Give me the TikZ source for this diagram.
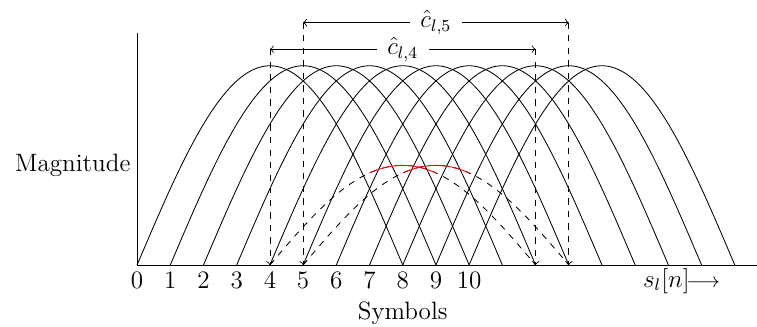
\documentclass[tikz,border=0pt]{standalone}
\usepackage{amsmath,amssymb}
\usepackage{tikz}
\usetikzlibrary{positioning, calc}

\begin{document}
\begin{tikzpicture}[
  x=0.558cm, y=0.558cm,
  font=\large,
  arch/.style={black},
  guide/.style={dashed, ->},
  span/.style={<->},
  spanlabel/.style={fill=white, inner xsep=5pt, inner ysep=1pt}
]

%% Parameters
\def\A{6}     % pulse height
\def\B{3}     % combined pulse height
\def\L{8}     % pulse length in symbols
\def\Xend{18.67}% end of symbol axis

\useasboundingbox (-4.13,-1.84) rectangle (\Xend,7.98);

%% ---- Axes ----
\coordinate (o) at (0,0);
\coordinate (xend) at (\Xend,0);
\coordinate (yend) at (0,7);
\draw (o) -- (xend);
\draw (o) -- (yend);

%% ---- Symbol pulses ----
\foreach \k in {0,...,10}{
  \draw[arch] plot[domain=0:\L, samples=60, smooth]
    ({\k+\x},{\A*sin(180*\x/\L)});
}

%% ---- Combined pulses ----
\foreach \k in {4,5}{
  \draw[dashed] plot[domain=0:\L, samples=60, smooth]
    ({\k+\x},{\B*sin(180*\x/\L)});
  \draw[red] plot[domain=3:5, samples=30, smooth]
    ({\k+\x},{\B*sin(180*\x/\L)});
}

%% ---- Estimation windows ----
\coordinate (c4l) at (4,6.5);
\coordinate (c4r) at (12,6.5);
\coordinate (c5l) at (5,7.3);
\coordinate (c5r) at (13,7.3);
\coordinate (b4) at (4,0);
\coordinate (b12) at (12,0);
\coordinate (b5) at (5,0);
\coordinate (b13) at (13,0);

\draw[span] (c4l) -- node[spanlabel] (c4) {$\hat{c}_{l,4}$} (c4r);
\draw[span] (c5l) -- node[spanlabel] (c5) {$\hat{c}_{l,5}$} (c5r);

\draw[guide] (c4l) -- (b4);
\draw[guide] (c4r) -- (b12);
\draw[guide] (c5l) -- (b5);
\draw[guide] (c5r) -- (b13);

%% ---- Tick labels ----
\foreach \n in {0,...,10}{
  \node[below] (t\n) at (\n,0) {$\n$};
}

%% ---- Axis labels ----
\node[left, inner sep=3pt] (mag) at (0,3) {Magnitude};
\node (sym) at (8,-1.45) {Symbols};
\node (sl) at (16.4,-0.48) {$s_l[n]$\kern-1.5pt{\normalsize$\longrightarrow$}};

\end{tikzpicture}
\end{document}
